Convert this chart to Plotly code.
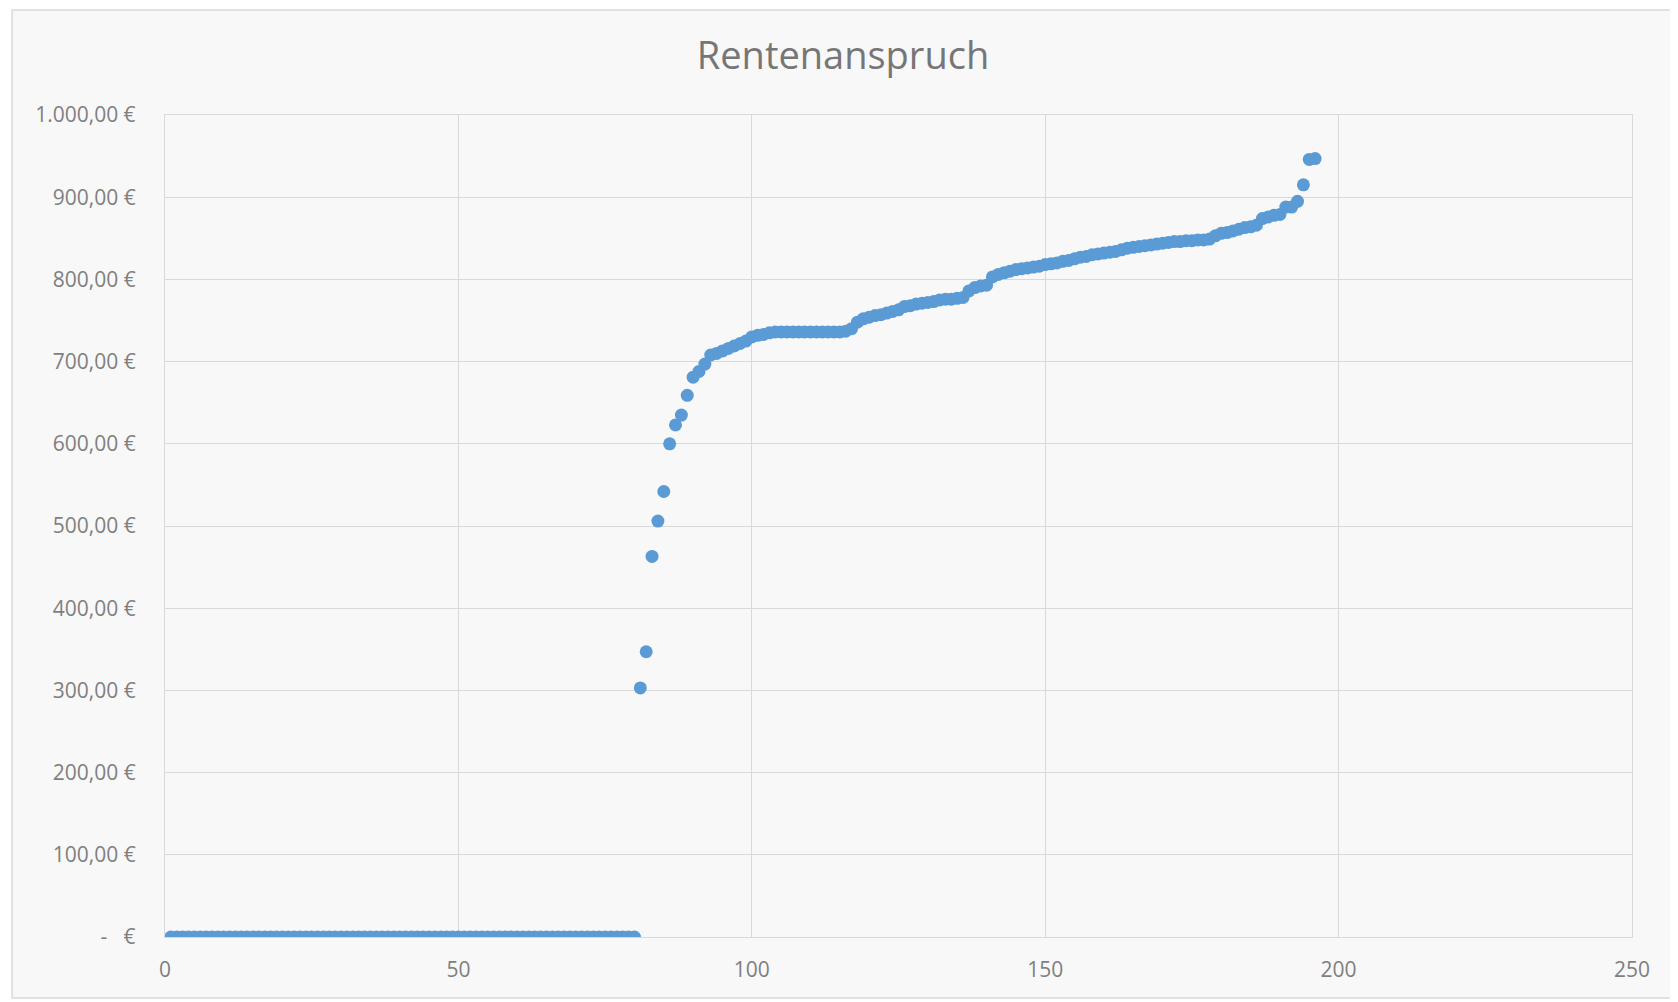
import plotly.graph_objects as go

# Rentenanspruch per person, sorted ascending (x = laufende Nummer 1..196)
nummer = list(range(1, 197))

anspruch_null = [
    0, 0, 0, 0, 0, 0, 0, 0, 0, 0, 0, 0, 0, 0, 0, 0, 0, 0, 0, 0,
    0, 0, 0, 0, 0, 0, 0, 0, 0, 0, 0, 0, 0, 0, 0, 0, 0, 0, 0, 0,
    0, 0, 0, 0, 0, 0, 0, 0, 0, 0, 0, 0, 0, 0, 0, 0, 0, 0, 0, 0,
    0, 0, 0, 0, 0, 0, 0, 0, 0, 0, 0, 0, 0, 0, 0, 0, 0, 0, 0, 0,
]
anspruch_rest = [
    303, 347, 463, 506, 542, 600, 623, 635, 659, 681,
    688, 697, 708, 710, 713, 716, 719, 722, 725, 730,
    732, 733, 735, 736, 736, 736, 736, 736, 736, 736,
    736, 736, 736, 736, 736, 737, 740, 748, 752, 754,
    756, 757, 759, 761, 763, 767, 768, 770, 771, 772,
    773, 775, 776, 776, 777, 778, 786, 790, 792, 793,
    803, 806, 808, 810, 812, 813, 814, 815, 816, 818,
    819, 820, 822, 823, 825, 827, 828, 830, 831, 832,
    833, 834, 836, 838, 839, 840, 841, 842, 843, 844,
    845, 846, 846, 847, 847, 848, 848, 849, 853, 856,
    857, 859, 861, 863, 864, 866, 874, 876, 878, 879,
    888, 888, 895, 915, 946, 947,
]
anspruch = anspruch_null + anspruch_rest

y_ticks = [0, 100, 200, 300, 400, 500, 600, 700, 800, 900, 1000]
y_ticktext = ["-   €", "100,00 €", "200,00 €", "300,00 €", "400,00 €", "500,00 €",
              "600,00 €", "700,00 €", "800,00 €", "900,00 €", "1.000,00 €"]
x_ticks = [0, 50, 100, 150, 200, 250]

# page is offset by the 8px body margin
OFF = 8
W, H = 1670, 994
L, R, T, B = 157, 46, 107, 65
pw, ph = W - L - R, H - T - B


def px_x(p):
    return (p - OFF - L) / pw


def px_y(p):
    return (H - B - (p - OFF)) / ph


fig = go.Figure()
fig.add_trace(go.Scatter(x=nummer, y=anspruch, mode='markers',
                         marker=dict(color='#5b9bd5', size=13, line=dict(width=0)),
                         name='Rentenanspruch'))

grid = '#d9d9d9'
fig.update_layout(
    width=W, height=H,
    margin=dict(l=L, r=R, t=T, b=B),
    paper_bgcolor='white',
    plot_bgcolor='rgba(0,0,0,0)',
    showlegend=False,
    font=dict(family='Open Sans, sans-serif', color='#7f7f7f', size=21),
    title=dict(text='Rentenanspruch', x=0.5, xanchor='center', y=1 - 48 / H, yanchor='middle',
               font=dict(size=38, color='#767676')),
    xaxis=dict(range=[0, 250], tickvals=x_ticks, showgrid=True, gridcolor=grid, gridwidth=1.3,
               zeroline=False, showline=True, linecolor=grid, linewidth=1.3, mirror=True,
               ticks='', ticklabelstandoff=14),
    yaxis=dict(range=[0, 1000], tickvals=y_ticks, ticktext=y_ticktext, showgrid=True,
               gridcolor=grid, gridwidth=1.3, zeroline=False, showline=True, linecolor=grid,
               linewidth=1.3, mirror=True, ticks='', ticklabelstandoff=24),
    shapes=[dict(type='rect', xref='paper', yref='paper', layer='below',
                 x0=px_x(12), x1=px_x(1690), y0=px_y(998), y1=px_y(10),
                 fillcolor='#f8f8f8', line=dict(color='#d9d9d9', width=1.5))],
)

fig.write_html("out.html")
